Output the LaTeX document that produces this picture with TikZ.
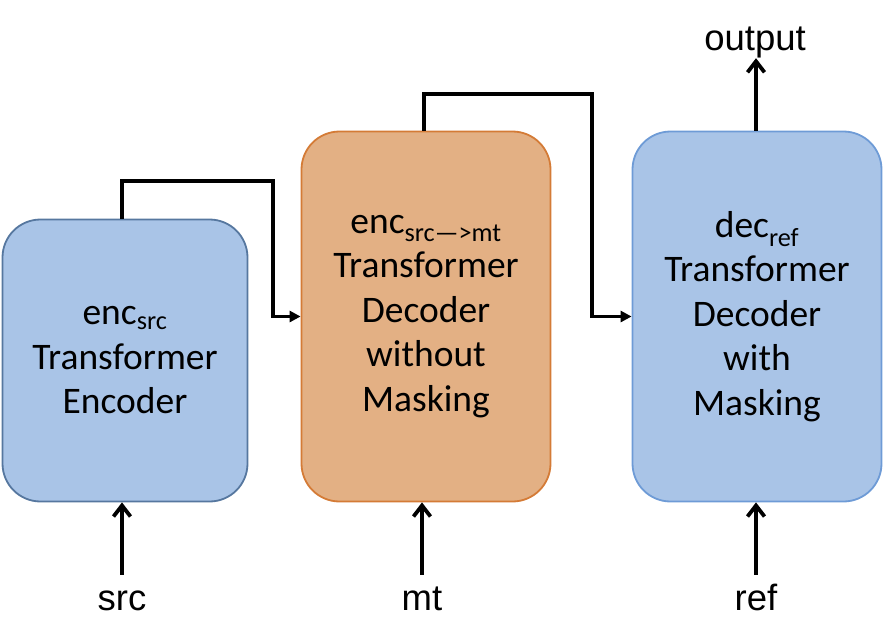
\documentclass[tikz,border=0pt]{standalone}
\usepackage{fontspec}
\setmainfont{Carlito}
\newfontfamily\arialfont{Liberation Sans}
\usetikzlibrary{arrows.meta,positioning}
\definecolor{boxblue}{HTML}{A9C4E7}
\definecolor{edgeblue}{HTML}{56779F}
\definecolor{edgelight}{HTML}{6E9BD6}
\definecolor{boxorange}{HTML}{E3B084}
\definecolor{edgeorange}{HTML}{D47B36}
\begin{document}
\begin{tikzpicture}[x=1pt,y=-1pt,
    block/.style={rectangle,rounded corners=38pt,draw,line width=1.8pt,align=center,
        font=\fontsize{37.5}{44.5}\selectfont},
    io/.style={font=\arialfont\fontsize{36.5}{43}\selectfont,inner sep=0pt,text depth=0pt},
    feed/.style={line width=3.8pt,-{Triangle[length=11pt,width=11pt]}},
    upin/.style={line width=3.8pt,-{Straight Barb[length=11pt,width=17pt]}}]
    \useasboundingbox (0,0) rectangle (883,643);

    \node[block, fill=boxblue, draw=edgeblue, minimum width=245pt, minimum height=282pt]
        at (125,360.5) (encSrc) {enc\textsubscript{src}\\Transformer\\Encoder};
    \node[block, fill=boxorange, draw=edgeorange, minimum width=249pt, minimum height=370pt]
        at (426,316.5) (encMt) {enc\textsubscript{src—>mt}\\Transformer\\Decoder\\without\\Masking};
    \node[block, fill=boxblue, draw=edgelight, minimum width=249pt, minimum height=370pt]
        at (757,316.5) (decRef) {dec\textsubscript{ref}\\Transformer\\Decoder\\with\\Masking};

    \node[io, anchor=base, text height=35pt] at (122,610) (src) {src};
    \node[io, anchor=base, text height=35pt] at (422,610) (mt) {mt};
    \node[io, anchor=base, text height=35pt] at (756,610) (ref) {ref};
    \node[io, anchor=base, text depth=8pt] at (755,50) (output) {output};

    \coordinate (bendA) at (273,181);
    \coordinate (bendB) at (592,94);

    \draw[feed] ([xshift=-3pt]encSrc.north) |- (bendA) |- (encMt.west);
    \draw[feed] ([xshift=-2pt]encMt.north) |- (bendB) |- (decRef.west);
    \draw[upin] (src.north) -- (src.north|-encSrc.south);
    \draw[upin] (mt.north) -- (mt.north|-encMt.south);
    \draw[upin] (ref.north) -- (ref.north|-decRef.south);
    \draw[upin] ([xshift=-1pt]decRef.north) -- ([xshift=-1pt]decRef.north|-output.south);
\end{tikzpicture}
\end{document}
